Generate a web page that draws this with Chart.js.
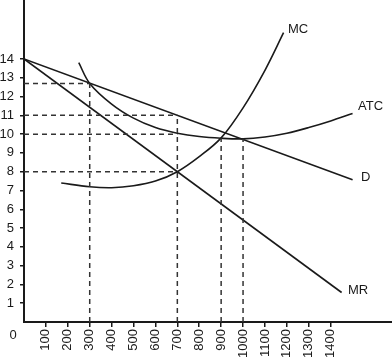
<!DOCTYPE html>
<html>
<head>
<meta charset="utf-8">
<script src="https://cdn.jsdelivr.net/npm/chart.js@4"></script>
<style>
  html, body { margin: 0; padding: 0; background: #fff; }
  canvas { display: block; }
</style>
</head>
<body>
<canvas id="chart" width="392" height="360"></canvas>
<script>
// quantity ticks and price ticks
const xTicks = [100, 200, 300, 400, 500, 600, 700, 800, 900, 1000, 1100, 1200, 1300, 1400];
const yTicks = [1, 2, 3, 4, 5, 6, 7, 8, 9, 10, 11, 12, 13, 14];

// demand and marginal revenue (straight lines)
const dQ = [0, 1500];
const dP = [14, 7.57];
const mrQ = [0, 1450];
const mrP = [14, 1.57];

// marginal cost
const mcQ = [170, 300, 400, 500, 600, 700, 800, 900, 1000, 1100, 1185];
const mcP = [7.4, 7.2, 7.15, 7.25, 7.5, 8.0, 8.8, 9.8, 11.4, 13.4, 15.4];

// average total cost
const atcQ = [250, 300, 400, 500, 600, 700, 800, 900, 1000, 1100, 1200, 1300, 1400, 1500];
const atcP = [13.8, 12.7, 11.6, 10.85, 10.35, 10.05, 9.87, 9.78, 9.75, 9.85, 10.05, 10.35, 10.7, 11.1];

// dashed guide lines: horizontal (price, up to quantity) and vertical (quantity, up to price)
const hGuideP = [12.7, 11, 10, 8];
const hGuideQ = [300, 700, 700, 700];
const vGuideQ = [300, 700, 900, 1000];
const vGuideP = [12.7, 11, 9.78, 9.75];

// curve names and where they are written
const curveNames = ['MC', 'ATC', 'D', 'MR'];
const nameQ = [1205, 1525, 1539, 1479];
const nameP = [15.6, 11.45, 7.72, 1.7];

const pts = (xs, ys) => xs.map((x, i) => ({ x, y: ys[i] }));

const curve = (data, smooth) => ({
  data,
  borderColor: '#1a1a1a',
  borderWidth: 1.6,
  pointRadius: 0,
  fill: false,
  tension: smooth ? 0.35 : 0
});

const guide = data => ({
  data,
  borderColor: '#333',
  borderWidth: 1.5,
  borderDash: [5, 4],
  pointRadius: 0,
  fill: false
});

const datasets = [];
hGuideP.forEach((p, i) => datasets.push(guide([{ x: 0, y: p }, { x: hGuideQ[i], y: p }])));
vGuideQ.forEach((q, i) => datasets.push(guide([{ x: q, y: 0 }, { x: q, y: vGuideP[i] }])));
datasets.push(curve(pts(dQ, dP), false));
datasets.push(curve(pts(mrQ, mrP), false));
datasets.push(curve(pts(mcQ, mcP), true));
datasets.push(curve(pts(atcQ, atcP), true));

const curveLabels = {
  id: 'curveLabels',
  afterDatasetsDraw(chart) {
    const { ctx, scales: { x, y } } = chart;
    ctx.save();
    ctx.fillStyle = '#1a1a1a';
    ctx.font = '13px "Liberation Sans", Arial, sans-serif';
    ctx.textBaseline = 'middle';
    ctx.textAlign = 'left';
    curveNames.forEach((name, i) => {
      ctx.fillText(name, x.getPixelForValue(nameQ[i]), y.getPixelForValue(nameP[i]));
    });
    // origin label
    ctx.textAlign = 'center';
    ctx.fillText('0', x.left - 11, y.bottom + 13);
    ctx.restore();
  }
};

// drop the extra room Chart.js keeps for half-labels at the axis ends
const noEndPadding = axis => {
  axis.paddingTop = 0;
  axis.paddingBottom = 0;
  axis.paddingLeft = 0;
  axis.paddingRight = 0;
};

new Chart(document.getElementById('chart'), {
  type: 'line',
  data: { datasets },
  options: {
    responsive: false,
    animation: false,
    layout: { padding: 0 },
    plugins: { legend: { display: false }, tooltip: { enabled: false } },
    scales: {
      x: {
        type: 'linear',
        min: 0,
        max: 1680,
        afterBuildTicks: axis => { axis.ticks = xTicks.map(v => ({ value: v })); },
        afterFit: axis => { axis.height = 38; noEndPadding(axis); },
        ticks: {
          minRotation: 90,
          maxRotation: 90,
          color: '#1a1a1a',
          padding: 2,
          callback: v => String(v),
          font: { family: '"Liberation Sans", Arial, sans-serif', size: 13 }
        },
        grid: { drawOnChartArea: false, drawTicks: true, tickLength: 5, color: '#1a1a1a', lineWidth: 1.5 },
        border: { display: true, color: '#1a1a1a', width: 2 }
      },
      y: {
        type: 'linear',
        min: 0,
        max: 17.14,
        afterBuildTicks: axis => { axis.ticks = yTicks.map(v => ({ value: v })); },
        afterFit: axis => { axis.width = 24; noEndPadding(axis); },
        ticks: {
          color: '#1a1a1a',
          padding: 6,
          font: { family: '"Liberation Sans", Arial, sans-serif', size: 13 }
        },
        grid: { drawOnChartArea: false, drawTicks: true, tickLength: 4, color: '#1a1a1a', lineWidth: 1.5 },
        border: { display: true, color: '#1a1a1a', width: 2 }
      }
    }
  },
  plugins: [curveLabels]
});
</script>
</body>
</html>
